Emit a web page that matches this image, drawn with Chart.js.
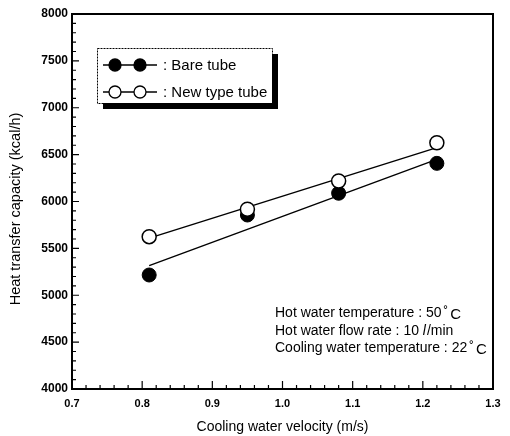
<!DOCTYPE html>
<html>
<head>
<meta charset="utf-8">
<script src="https://cdn.jsdelivr.net/npm/chart.js@4"></script>
<style>
  html, body { margin: 0; padding: 0; background: #fff; }
  #wrap { width: 510px; height: 436px; }
</style>
</head>
<body>
<div id="wrap"><canvas id="capacityChart"></canvas></div>
<script>
// values
const velocity = [0.81, 0.95, 1.08, 1.22];
const bareTube = [5216, 5856, 6088, 6407];
const newTypeTube = [5625, 5917, 6219, 6627];
const fitEnds = [0.81, 1.22];
const bareFit = [5316, 6450];
const newFit = [5610, 6575];
const seriesNames = [': Bare tube', ': New type tube'];
const xTickValues = [0.7, 0.8, 0.9, 1.0, 1.1, 1.2, 1.3];
const yTickValues = [4000, 4500, 5000, 5500, 6000, 6500, 7000, 7500, 8000];
const yTitle = 'Heat transfer capacity (kcal/h)';
const xTitle = 'Cooling water velocity (m/s)';
const conditions = [
    ['Hot water temperature : 50', '˚', 'C'],
    ['Hot water flow rate : 10 ', 'l', '/min'],
    ['Cooling water temperature : 22', '˚', 'C']
];

const FONT = "'Liberation Sans', Arial, sans-serif";
const toPoints = (xs, ys) => xs.map((x, i) => ({x: x, y: ys[i]}));

// inward ticks, frame, legend box, y title and condition notes
const decorations = {
    id: 'decorations',
    afterDraw(chart) {
        const ctx = chart.ctx;
        const a = chart.chartArea;
        const xs = chart.scales.x, ys = chart.scales.y;
        ctx.save();
        ctx.strokeStyle = '#000';
        ctx.lineWidth = 1.2;
        ctx.beginPath();
        for (let i = 0; i < xTickValues.length; i++) {
            const px = xs.getPixelForValue(xTickValues[i]);
            ctx.moveTo(px, a.bottom); ctx.lineTo(px, a.bottom - 8);
            if (i < xTickValues.length - 1) {
                for (let k = 1; k < 5; k++) {
                    const mx = xs.getPixelForValue(xTickValues[i] + k * 0.02);
                    ctx.moveTo(mx, a.bottom); ctx.lineTo(mx, a.bottom - 4);
                }
            }
        }
        for (let i = 0; i < yTickValues.length; i++) {
            const py = ys.getPixelForValue(yTickValues[i]);
            ctx.moveTo(a.left, py); ctx.lineTo(a.left + 7, py);
            if (i < yTickValues.length - 1) {
                for (let k = 1; k < 5; k++) {
                    const my = ys.getPixelForValue(yTickValues[i] + k * 100);
                    ctx.moveTo(a.left, my); ctx.lineTo(a.left + 4, my);
                }
            }
        }
        ctx.stroke();

        ctx.lineWidth = 2;
        ctx.strokeRect(a.left, a.top, a.right - a.left, a.bottom - a.top);

        // y axis title, sits a little below the plot centre in the original
        ctx.fillStyle = '#000';
        ctx.font = '14.5px ' + FONT;
        ctx.textAlign = 'center';
        ctx.textBaseline = 'middle';
        ctx.save();
        ctx.translate(16, 209);
        ctx.rotate(-Math.PI / 2);
        ctx.fillText(yTitle, 0, 0);
        ctx.restore();
        ctx.textAlign = 'left';

        // legend
        const lx = 97, ly = 48, lw = 175, lh = 55;
        ctx.fillStyle = '#000';
        ctx.fillRect(lx + 6, ly + 6, lw, lh);
        ctx.fillStyle = '#fff';
        ctx.fillRect(lx, ly, lw, lh);
        ctx.lineWidth = 1;
        ctx.setLineDash([2, 1]);
        ctx.strokeRect(lx + 0.5, ly + 0.5, lw, lh);
        ctx.setLineDash([]);
        const rows = [65, 92];
        ctx.font = '15px ' + FONT;
        rows.forEach((ry, i) => {
            ctx.lineWidth = 1.3;
            ctx.beginPath();
            ctx.moveTo(103, ry); ctx.lineTo(157, ry);
            ctx.stroke();
            [115, 140].forEach(cx => {
                ctx.beginPath();
                ctx.arc(cx, ry, 6, 0, Math.PI * 2);
                ctx.fillStyle = i === 0 ? '#000' : '#fff';
                ctx.fill();
                ctx.stroke();
            });
            ctx.fillStyle = '#000';
            ctx.fillText(seriesNames[i], 163, ry + 1);
        });

        // test conditions
        ctx.textBaseline = 'alphabetic';
        const baselines = [317, 334.5, 352];
        conditions.forEach((parts, i) => {
            let x = 275;
            parts.forEach((p, j) => {
                let dy = 0;
                ctx.font = '14px ' + FONT;
                if (p === 'l') ctx.font = 'italic 14px ' + FONT;
                if (p === '˚') { x += 2; }
                if (p === 'C') { x += 2; dy = 2; ctx.font = '15px ' + FONT; }
                ctx.fillText(p, x, baselines[i] + dy);
                x += ctx.measureText(p).width + (p === 'l' ? 1 : 0);
            });
        });
        ctx.restore();
    }
};

const capacityChart = new Chart(document.getElementById('capacityChart'), {
    type: 'scatter',
    data: {
        datasets: [{
            label: 'New type tube',
            data: toPoints(velocity, newTypeTube),
            backgroundColor: '#fff',
            borderColor: '#000',
            borderWidth: 1.5,
            pointRadius: 7,
            order: 0
        }, {
            label: 'Bare tube',
            data: toPoints(velocity, bareTube),
            backgroundColor: '#000',
            borderColor: '#000',
            borderWidth: 1,
            pointRadius: 7,
            order: 1
        }, {
            label: 'Bare tube fit',
            data: toPoints(fitEnds, bareFit),
            showLine: true,
            borderColor: '#000',
            borderWidth: 1.4,
            pointRadius: 0,
            order: 2
        }, {
            label: 'New type tube fit',
            data: toPoints(fitEnds, newFit),
            showLine: true,
            borderColor: '#000',
            borderWidth: 1.4,
            pointRadius: 0,
            order: 3
        }]
    },
    options: {
        responsive: true,
        maintainAspectRatio: false,
        animation: false,
        layout: {
            padding: {top: 14, right: 17, left: 0, bottom: 0}
        },
        plugins: {
            legend: {display: false},
            tooltip: {enabled: false}
        },
        scales: {
            x: {
                type: 'linear',
                min: 0.7,
                max: 1.3,
                afterBuildTicks: s => { s.ticks = xTickValues.map(v => ({value: v})); },
                afterFit: s => { s.height = 47; },
                grid: {display: false, drawTicks: false},
                border: {display: false},
                ticks: {
                    color: '#000',
                    padding: 8,
                    font: {family: FONT, size: 11, weight: 'bold'},
                    callback: v => v.toFixed(1)
                },
                title: {
                    display: true,
                    text: xTitle,
                    color: '#000',
                    padding: {top: 0, bottom: 0},
                    font: {family: FONT, size: 14}
                }
            },
            y: {
                type: 'linear',
                min: 4000,
                max: 8000,
                afterBuildTicks: s => { s.ticks = yTickValues.map(v => ({value: v})); },
                afterFit: s => { s.width = 72; },
                grid: {display: false, drawTicks: false},
                border: {display: false},
                ticks: {
                    color: '#000',
                    padding: 4,
                    font: {family: FONT, size: 12, weight: 'bold'},
                    callback: v => String(v)
                }
            }
        }
    },
    plugins: [decorations]
});
</script>
</body>
</html>
